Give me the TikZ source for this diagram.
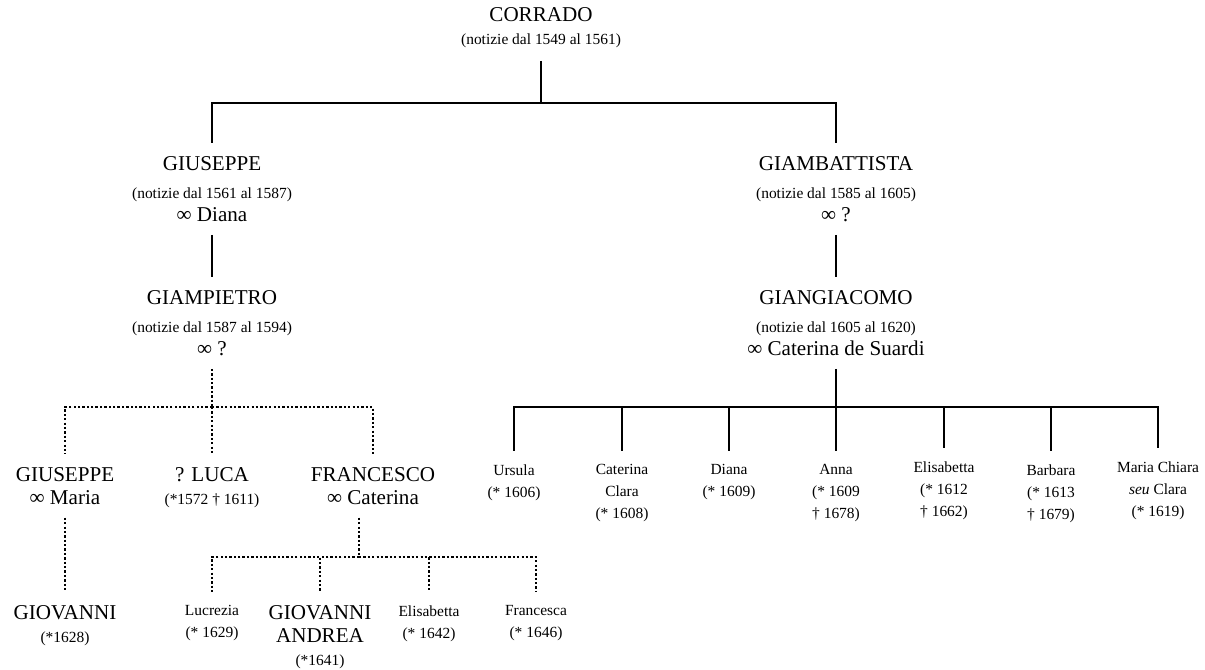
\documentclass[tikz,border=0pt]{standalone}
\usepackage{fontspec}
\setmainfont{Liberation Serif}
\newcommand{\smallnote}[1]{{\fontsize{8.8}{12.5}\selectfont #1}}
\tikzset{
  famperson/.style={align=center, inner xsep=0pt, inner ysep=0.26cm,
                    anchor=north, font=\fontsize{12}{13}\selectfont},
  famchild/.style={famperson, font=\fontsize{8.8}{12.5}\selectfont},
  famline/.style={draw, line width=0.6pt},
  famguess/.style={draw, line width=1.4pt, dash pattern=on 1.3pt off 1.2pt}
}

\begin{document}
\begin{tikzpicture}
  \useasboundingbox (0,0) rectangle (24.1,-13.4);
  % first generations
  \node[famperson] (corrado) at (10.82, 0.12)
    {CORRADO\\\smallnote{(notizie dal 1549 al 1561)}};
  \node[famperson] (giuseppe) at (4.24, -2.86)
    {GIUSEPPE\\[3pt]\smallnote{(notizie dal 1561 al 1587)}\\∞ Diana};
  \node[famperson] (giambattista) at (16.72, -2.86)
    {GIAMBATTISTA\\[3pt]\smallnote{(notizie dal 1585 al 1605)}\\∞ ?};
  \node[famperson] (giampietro) at (4.24, -5.54)
    {GIAMPIETRO\\[3pt]\smallnote{(notizie dal 1587 al 1594)}\\∞ ?};
  \node[famperson] (giangiacomo) at (16.72, -5.54)
    {GIANGIACOMO\\[3pt]\smallnote{(notizie dal 1605 al 1620)}\\∞ Caterina de Suardi};
  \coordinate (jc) at (10.82, -2.06);
  \draw[famline] (corrado.south) -- (jc);
  \draw[famline] (giuseppe.north) |- (jc) -| (giambattista.north);
  \draw[famline] (giuseppe.south) -- (giampietro.north);
  \draw[famline] (giambattista.south) -- (giangiacomo.north);

  % children of giampietro
  \node[famperson] (giuseppe2) at (1.30, -9.08) {GIUSEPPE\\∞ Maria};
  \node[famperson] (luca) at (4.24, -9.08)
    {? LUCA\\\smallnote{(*1572 † 1611)}};
  \node[famperson] (francesco) at (7.46, -9.08) {FRANCESCO\\∞ Caterina};
  \coordinate (jp) at (4.24, -8.14);
  \draw[famguess] (giampietro.south) -- (jp);
  \draw[famguess] (jp) -| (giuseppe2.north);
  \draw[famguess] (jp) -- (luca.north);
  \draw[famguess] (jp) -| (francesco.north);

  % grandchildren
  \node[famperson] (giovanni) at (1.30, -11.84)
    {GIOVANNI\\\smallnote{(*1628)}};
  \draw[famguess] (giuseppe2.south) -- (giovanni.north);
  \node[famchild] (lucrezia) at (4.24, -11.84) {Lucrezia\\(* 1629)};
  \node[famperson] (giovandrea) at (6.40, -11.84)
    {GIOVANNI\\ANDREA\\\smallnote{(*1641)}};
  \node[famchild] (elisabetta2) at (8.58, -11.84) {Elisabetta\\(* 1642)};
  \node[famchild] (francesca) at (10.72, -11.84) {Francesca\\(* 1646)};
  \coordinate (jf) at (7.18, -11.14);
  \draw[famguess] (francesco.south -| jf) -- (jf);
  \foreach \c in {lucrezia, giovandrea, elisabetta2, francesca}
    \draw[famguess] (jf) -| (\c.north);

  % children of giangiacomo
  \coordinate (jg) at (16.72, -8.14);
  \draw[famline] (giangiacomo.south) -- (jg);
  \foreach \i/\x/\y/\t in {1/10.28/-9.02/{Ursula\\(* 1606)},
                           2/12.44/-9.02/{Caterina\\Clara\\(* 1608)},
                           3/14.58/-9.02/{Diana\\(* 1609)},
                           4/16.72/-9.02/{Anna\\(* 1609\\† 1678)},
                           5/18.88/-8.96/{Elisabetta\\(* 1612\\† 1662)},
                           6/21.02/-9.02/{Barbara\\(* 1613\\† 1679)},
                           7/23.16/-8.96/{Maria Chiara\\\textit{seu} Clara\\(* 1619)}} {
    \node[famchild] (c\i) at (\x, \y) {\t};
    \draw[famline] (jg) -| (c\i.north);
  }
\end{tikzpicture}
\end{document}
